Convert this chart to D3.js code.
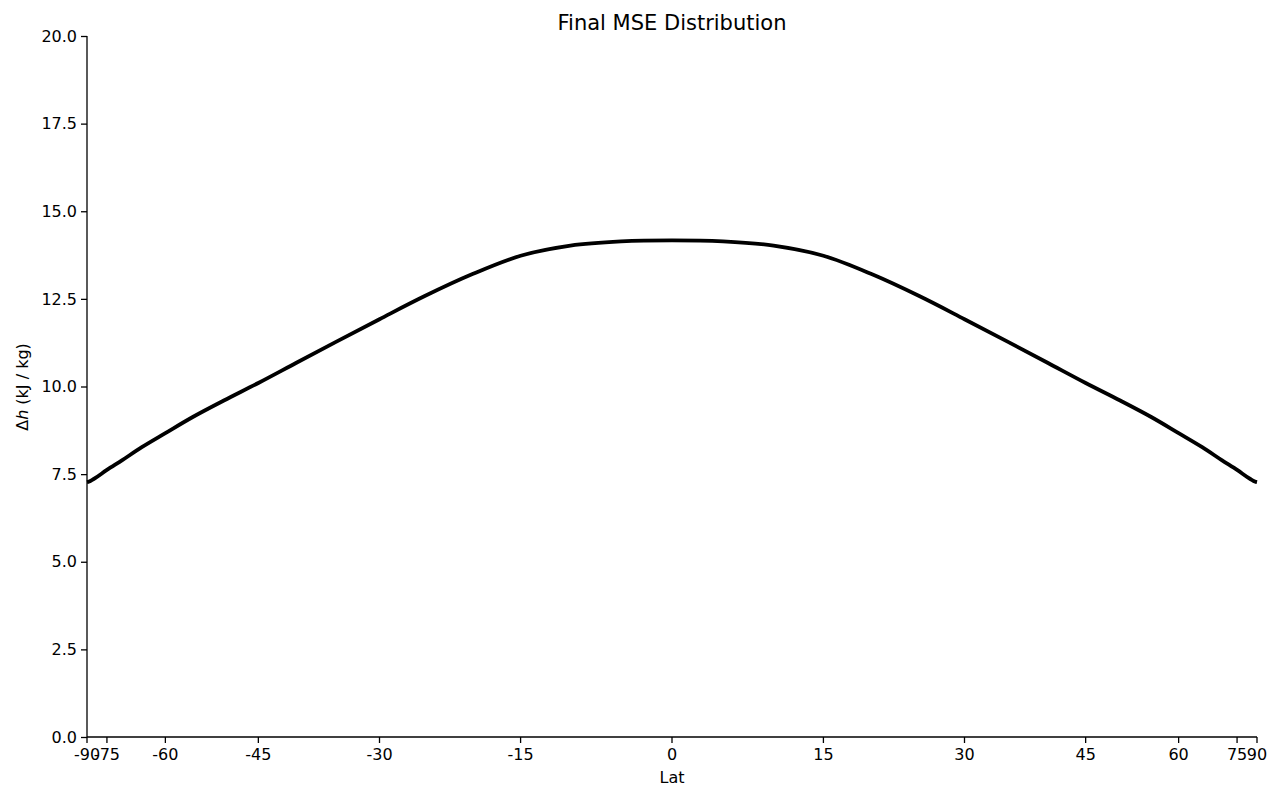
<!DOCTYPE html>
<html><head><meta charset="utf-8">
<script src="https://cdn.jsdelivr.net/npm/d3@7"></script>
<style>body{margin:0;background:#fff}text{font-family:"DejaVu Sans",sans-serif}</style>
</head><body><svg id="c" width="1280" height="800"></svg>
<script>
// latitude samples and final MSE values (kJ/kg)
var lats = [-90,-85,-80,-75,-70,-65,-60,-55,-50,-45,-40,-35,-30,-25,-20,-15,-10,-5,0,
            5,10,15,20,25,30,35,40,45,50,55,60,65,70,75,80,85,90];
var mse = [7.27,7.29,7.4,7.62,7.9,8.27,8.67,9.13,9.6,10.1,10.67,11.28,11.92,12.58,13.2,13.73,14.02,14.14,14.17,
           14.14,14.02,13.73,13.2,12.58,11.92,11.28,10.67,10.1,9.6,9.13,8.67,8.27,7.9,7.62,7.4,7.29,7.27];
var xTicks = [-90,-75,-60,-45,-30,-15,0,15,30,45,60,75,90];
var yTicks = [0,2.5,5,7.5,10,12.5,15,17.5,20];

var L = 87, R = 1257, T = 36, B = 737;
var svg = d3.select("#c");
var rad = Math.PI / 180;
var xs = d3.scaleLinear().domain([-1, 1]).range([L, R]);
var x = function(d) { return xs(Math.sin(d * rad)); };
var y = d3.scaleLinear().domain([0, 20]).range([B, T]);

// x axis (sine-latitude spacing)
var gx = svg.append("g").attr("transform", "translate(0," + B + ")");
gx.append("line").attr("x1", L).attr("x2", R).attr("stroke", "#000").attr("stroke-width", 1.3);
xTicks.forEach(function(t) {
  gx.append("line").attr("x1", x(t)).attr("x2", x(t)).attr("y2", 6).attr("stroke", "#000").attr("stroke-width", 1.3);
  gx.append("text").attr("x", x(t)).attr("y", 23).attr("text-anchor", "middle").attr("font-size", "16px").text(t);
});

var ax = d3.axisLeft(y).tickValues(yTicks).tickFormat(d3.format(".1f")).tickSize(6).tickPadding(4);
var gy = svg.append("g").attr("transform", "translate(" + L + ",0)").call(ax);
gy.select(".domain").attr("stroke-width", 1.3).attr("d", "M0," + B + "V" + T);
gy.selectAll(".tick line").attr("stroke-width", 1.3);
gy.selectAll("text").attr("font-size", "16px").attr("font-family", "DejaVu Sans");

svg.append("path").datum(d3.range(lats.length))
  .attr("fill", "none").attr("stroke", "#000").attr("stroke-width", 3.8)
  .attr("d", d3.line().curve(d3.curveCatmullRom).x(function(i) { return x(lats[i]); }).y(function(i) { return y(mse[i]); }));

svg.append("text").attr("x", 672).attr("y", 30).attr("text-anchor", "middle").attr("font-size", "21px").text("Final MSE Distribution");
svg.append("text").attr("x", 672).attr("y", 783).attr("text-anchor", "middle").attr("font-size", "16px").text("Lat");
var yl = svg.append("text").attr("transform", "translate(28,387) rotate(-90)").attr("text-anchor", "middle").attr("font-size", "16px");
yl.append("tspan").text("Δ");
yl.append("tspan").attr("font-style", "italic").text("h");
yl.append("tspan").text(" (kJ / kg)");
</script></body></html>
